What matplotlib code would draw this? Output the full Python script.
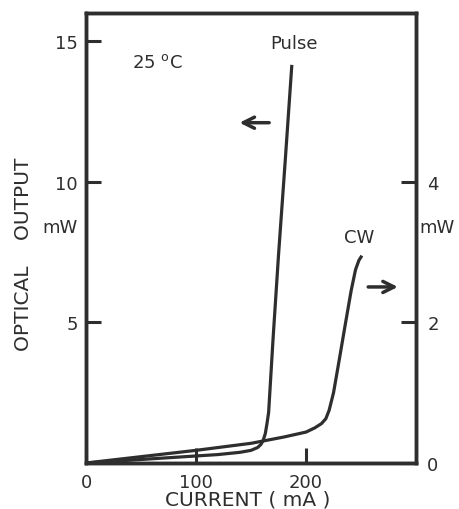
import numpy as np
import matplotlib.pyplot as plt

plt.rcParams['font.family'] = ['DejaVu Sans']

# 讀圖估計的資料（電流 mA）
pulse_current = [0, 40, 80, 100, 120, 140, 150, 156, 159, 161, 163, 164.5, 166, 170, 175, 181, 187]
pulse_output = [0, 0.1, 0.2, 0.25, 0.3, 0.38, 0.45, 0.55, 0.66, 0.8, 1.05, 1.4, 1.8, 4.4, 7.4, 10.7, 14.1]   # 左軸 mW

cw_current = [0, 50, 100, 150, 180, 200, 208, 214, 218, 221, 225, 230, 236, 241, 245, 248, 250]
cw_output = [0, 0.09, 0.18, 0.28, 0.37, 0.44, 0.5, 0.56, 0.63, 0.75, 1.0, 1.45, 2.0, 2.45, 2.75, 2.88, 2.93]  # 右軸 mW

x_ticks = [0, 100, 200]
left_ticks = [5, 10, 15]
right_ticks = [0, 2, 4]

ink = '#2e2e2e'

fig = plt.figure(figsize=(4.59, 5.10), dpi=100)
ax = fig.add_axes([0.1874, 0.0902, 0.719, 0.8823])
ax2 = ax.twinx()

ax.set_xlim(0, 300)
ax.set_ylim(0, 16)
ax2.set_ylim(0, 6.4)

ax.plot(pulse_current, pulse_output, color=ink, lw=2.3, solid_joinstyle='round')
ax2.plot(cw_current, cw_output, color=ink, lw=2.3, solid_joinstyle='round')

for sp in list(ax.spines.values()) + list(ax2.spines.values()):
    sp.set_linewidth(2.5)
    sp.set_color(ink)

ax.set_xticks(x_ticks)
ax.set_yticks(left_ticks)
ax2.set_yticks(right_ticks)
ax.tick_params(axis='both', direction='in', length=11, width=2.2, color=ink,
               labelsize=13, labelcolor=ink, pad=6)
ax2.tick_params(axis='y', direction='in', length=11, width=2.2, color=ink,
                labelsize=13, labelcolor=ink, pad=8)
ax.tick_params(axis='x', pad=7)

# 文字標註
ax.text(189, 14.95, 'Pulse', ha='center', va='center', fontsize=13, color=ink)
ax.text(42, 14.27, '25 $^{\\mathrm{o}}$C', ha='left', va='center', fontsize=13, color=ink)
ax.text(248, 8.04, 'CW', ha='center', va='center', fontsize=13, color=ink)
ax.text(-0.079, 0.524, 'mW', transform=ax.transAxes, ha='center', va='center', fontsize=13, color=ink)
ax.text(1.064, 0.524, 'mW', transform=ax.transAxes, ha='center', va='center', fontsize=13, color=ink)

# 箭頭
ax.annotate('', xy=(137, 12.1), xytext=(169, 12.1),
            arrowprops=dict(arrowstyle='->', lw=2.5, color=ink, mutation_scale=20))
ax.annotate('', xy=(286, 6.26), xytext=(254, 6.26),
            arrowprops=dict(arrowstyle='->', lw=2.5, color=ink, mutation_scale=20))

ax.text(-0.19, 0.465, 'OPTICAL    OUTPUT', transform=ax.transAxes, rotation=90,
        ha='center', va='center', fontsize=14.5, color=ink)
ax.text(0.49, -0.08, 'CURRENT ( mA )', transform=ax.transAxes,
        ha='center', va='center', fontsize=14.5, color=ink)

fig.savefig('out.png', dpi=100)
